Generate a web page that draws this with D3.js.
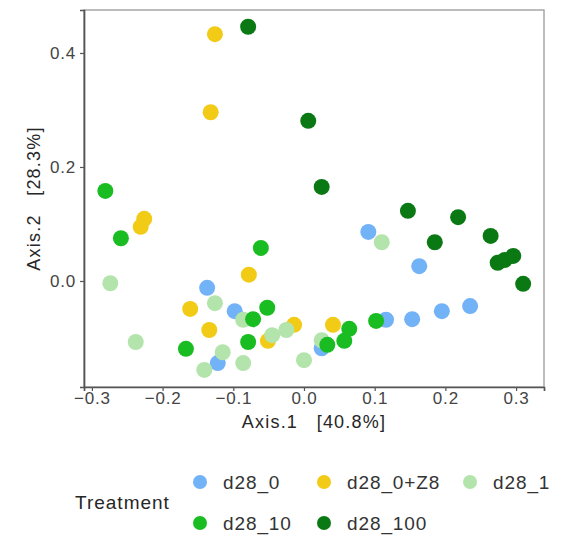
<!DOCTYPE html>
<html>
<head>
<meta charset="utf-8">
<script src="https://cdn.jsdelivr.net/npm/d3@7"></script>
<style>
	body { margin: 0; background: #fff; }
	text { font-family: "Liberation Sans", Arial, sans-serif; white-space: pre; }
</style>
</head>
<body>
<div id="viz"></div>
<script>
var width = 564;
var height = 541;

var treatments = ["d28_0", "d28_0+Z8", "d28_1", "d28_10", "d28_100"];
var colors = ["#72b2f6", "#f2cb17", "#b3e4ab", "#19bd22", "#0a7913"];

// ordination scores [Axis.1, Axis.2]
var d28_0 = [[0.091, 0.086], [0.163, 0.026], [0.235, -0.044], [0.195, -0.053], [0.153, -0.067],
	[0.116, -0.068], [-0.137, -0.012], [-0.098, -0.053], [-0.122, -0.144], [0.025, -0.118]];
var d28_0_Z8 = [[-0.126, 0.433], [-0.132, 0.296], [-0.226, 0.109], [-0.231, 0.095], [-0.161, -0.049],
	[-0.134, -0.086], [-0.078, 0.011], [-0.051, -0.105], [-0.014, -0.077], [0.041, -0.077]];
var d28_1 = [[-0.274, -0.004], [-0.238, -0.107], [-0.126, -0.039], [-0.115, -0.125], [-0.141, -0.156],
	[-0.086, -0.144], [-0.086, -0.068], [-0.045, -0.095], [-0.025, -0.086], [0.000, -0.139],
	[0.110, 0.068], [0.025, -0.104]];
var d28_10 = [[-0.281, 0.158], [-0.259, 0.075], [-0.061, 0.058], [-0.167, -0.119], [-0.052, -0.047],
	[-0.072, -0.067], [-0.079, -0.107], [0.033, -0.112], [0.057, -0.105], [0.064, -0.084],
	[0.102, -0.070]];
var d28_100 = [[-0.079, 0.446], [0.006, 0.281], [0.025, 0.165], [0.147, 0.123], [0.218, 0.112],
	[0.185, 0.068], [0.264, 0.079], [0.274, 0.032], [0.284, 0.037], [0.296, 0.044], [0.310, -0.005]];

var xTicks = [-0.3, -0.2, -0.1, 0.0, 0.1, 0.2, 0.3];
var yTicks = [0.0, 0.2, 0.4];
var xTitle = "Axis.1   [40.8%]";
var yTitle = "Axis.2   [28.3%]";
var legendTitle = "Treatment";

var groups = [d28_0, d28_0_Z8, d28_1, d28_10, d28_100];

var points = [];
groups.forEach(function(g, i) {
	g.forEach(function(p) {
		points.push({ treatment: treatments[i], a1: p[0], a2: p[1] });
	});
});

var panel = { left: 84, right: 544, top: 10, bottom: 387 };

var x = d3.scaleLinear()
	.domain([-0.3112, 0.3395])
	.range([panel.left, panel.right]);

var y = d3.scaleLinear()
	.domain([-0.186, 0.4754])
	.range([panel.bottom, panel.top]);

var color = d3.scaleOrdinal()
	.domain(treatments)
	.range(colors);

var fmt = function(d) { return d3.format(".1f")(d).replace("-", "\u2212"); };

var svg = d3.select("#viz").append("svg")
	.attr("width", width)
	.attr("height", height);

svg.append("rect")
	.attr("width", width)
	.attr("height", height)
	.attr("fill", "#fff");

// panel border
svg.append("rect")
	.attr("x", panel.left)
	.attr("y", panel.top)
	.attr("width", panel.right - panel.left)
	.attr("height", panel.bottom - panel.top)
	.attr("fill", "none")
	.attr("stroke", "#a0a0a0")
	.attr("stroke-width", 1.4);

var xAxis = svg.append("g")
	.attr("transform", "translate(0," + panel.bottom + ")")
	.call(d3.axisBottom(x).tickValues(xTicks).tickFormat(fmt).tickSize(4).tickPadding(1));

var yAxis = svg.append("g")
	.attr("transform", "translate(" + panel.left + ",0)")
	.call(d3.axisLeft(y).tickValues(yTicks).tickFormat(fmt).tickSize(4).tickPadding(4));

[xAxis, yAxis].forEach(function(ax) {
	ax.select(".domain").attr("stroke", "#555").attr("stroke-width", 1.7);
	ax.selectAll(".tick line").attr("stroke", "#555").attr("stroke-width", 1.2);
	ax.selectAll(".tick text")
		.attr("fill", "#444")
		.style("font-size", "17px")
		.style("letter-spacing", "0.8px");
});

svg.append("text")
	.attr("x", (panel.left + panel.right) / 2)
	.attr("y", 428)
	.attr("text-anchor", "middle")
	.attr("fill", "#262626")
	.style("font-size", "18px")
	.style("letter-spacing", "1.2px")
	.text(xTitle);

svg.append("text")
	.attr("transform", "translate(40," + ((panel.top + panel.bottom) / 2) + ") rotate(-90)")
	.attr("text-anchor", "middle")
	.attr("fill", "#262626")
	.style("font-size", "18px")
	.style("letter-spacing", "1.2px")
	.text(yTitle);

svg.append("g")
	.selectAll("circle")
	.data(points)
	.enter().append("circle")
		.attr("cx", function(d) { return x(d.a1); })
		.attr("cy", function(d) { return y(d.a2); })
		.attr("r", 8)
		.attr("fill", function(d) { return color(d.treatment); });

// legend, 3 columns x 2 rows
var legendDotX = [200, 324, 470];
var legendRowY = [482, 523];

var legend = svg.append("g");

legend.append("text")
	.attr("x", 75)
	.attr("y", 502)
	.attr("dy", "0.35em")
	.attr("fill", "#262626")
	.style("font-size", "19px")
	.style("letter-spacing", "1px")
	.text(legendTitle);

var items = legend.selectAll(".key")
	.data(treatments)
	.enter().append("g")
		.attr("class", "key")
		.attr("transform", function(d, i) {
			return "translate(" + legendDotX[i % 3] + "," + legendRowY[Math.floor(i / 3)] + ")";
		});

items.append("circle")
	.attr("r", 7)
	.attr("fill", function(d) { return color(d); });

items.append("text")
	.attr("x", 23)
	.attr("dy", "0.35em")
	.attr("fill", "#333")
	.style("font-size", "19px")
	.style("letter-spacing", "0.9px")
	.text(function(d) { return d; });
</script>
</body>
</html>
